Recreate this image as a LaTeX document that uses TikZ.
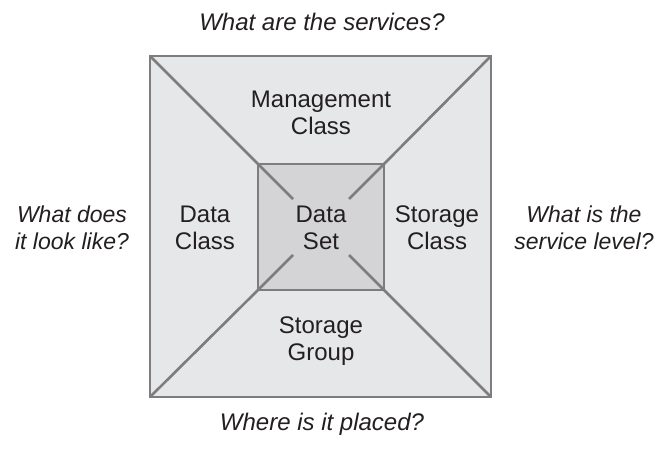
\documentclass[tikz,border=0pt]{standalone}
\usepackage{fontspec}
\setmainfont{Liberation Sans}
\definecolor{rahmen}{RGB}{125,125,128}
\definecolor{aussen}{RGB}{230,231,232}
\definecolor{innen}{RGB}{212,212,214}
\definecolor{schrift}{RGB}{35,31,32}
\begin{document}
\begin{tikzpicture}[x=1pt, y=-1pt,
  label/.style={text=schrift, align=center, font=\fontsize{24}{27}\selectfont},
  frage/.style={label, font=\fontsize{24}{27}\selectfont\itshape},
  seitenfrage/.style={label, font=\fontsize{23}{27}\selectfont\itshape},
  kante/.style={draw=rahmen, line width=2.6pt}]
\useasboundingbox (0,0) rectangle (658,449);
% squares
\coordinate (otl) at (150,56);
\coordinate (obr) at (491,397);
\coordinate (otr) at (491,56);
\coordinate (obl) at (150,397);
\coordinate (itl) at (258,164);
\coordinate (ibr) at (384,290);
\coordinate (itr) at (384,164);
\coordinate (ibl) at (258,290);
\draw[kante, fill=aussen] (otl) rectangle (obr);
\draw[kante] (otl) -- (itl);
\draw[kante] (otr) -- (itr);
\draw[kante] (obl) -- (ibl);
\draw[kante] (obr) -- (ibr);
\draw[kante, fill=innen] (itl) rectangle (ibr);
% inner diagonals
\draw[kante] (itl) -- ++(35,35);
\draw[kante] (itr) -- ++(-35,35);
\draw[kante] (ibl) -- ++(35,-35);
\draw[kante] (ibr) -- ++(-35,-35);
% labels
\node[label] (mgmt) at (321,113) {Management\\Class};
\node[label] (data) at (205,228) {Data\\Class};
\node[label] (set) at (321,228) {Data\\Set};
\node[label] (stor) at (437,228) {Storage\\Class};
\node[label] (grp) at (321,341) {Storage\\Group};
% questions
\node[frage] (what) at (322,22) {What are the services?};
\node[seitenfrage] (look) at (72,228) {What does\\it look like?};
\node[seitenfrage] (level) at (584,228) {What is the\\service level?};
\node[frage] (where) at (322,424) {Where is it placed?};
\end{tikzpicture}
\end{document}
